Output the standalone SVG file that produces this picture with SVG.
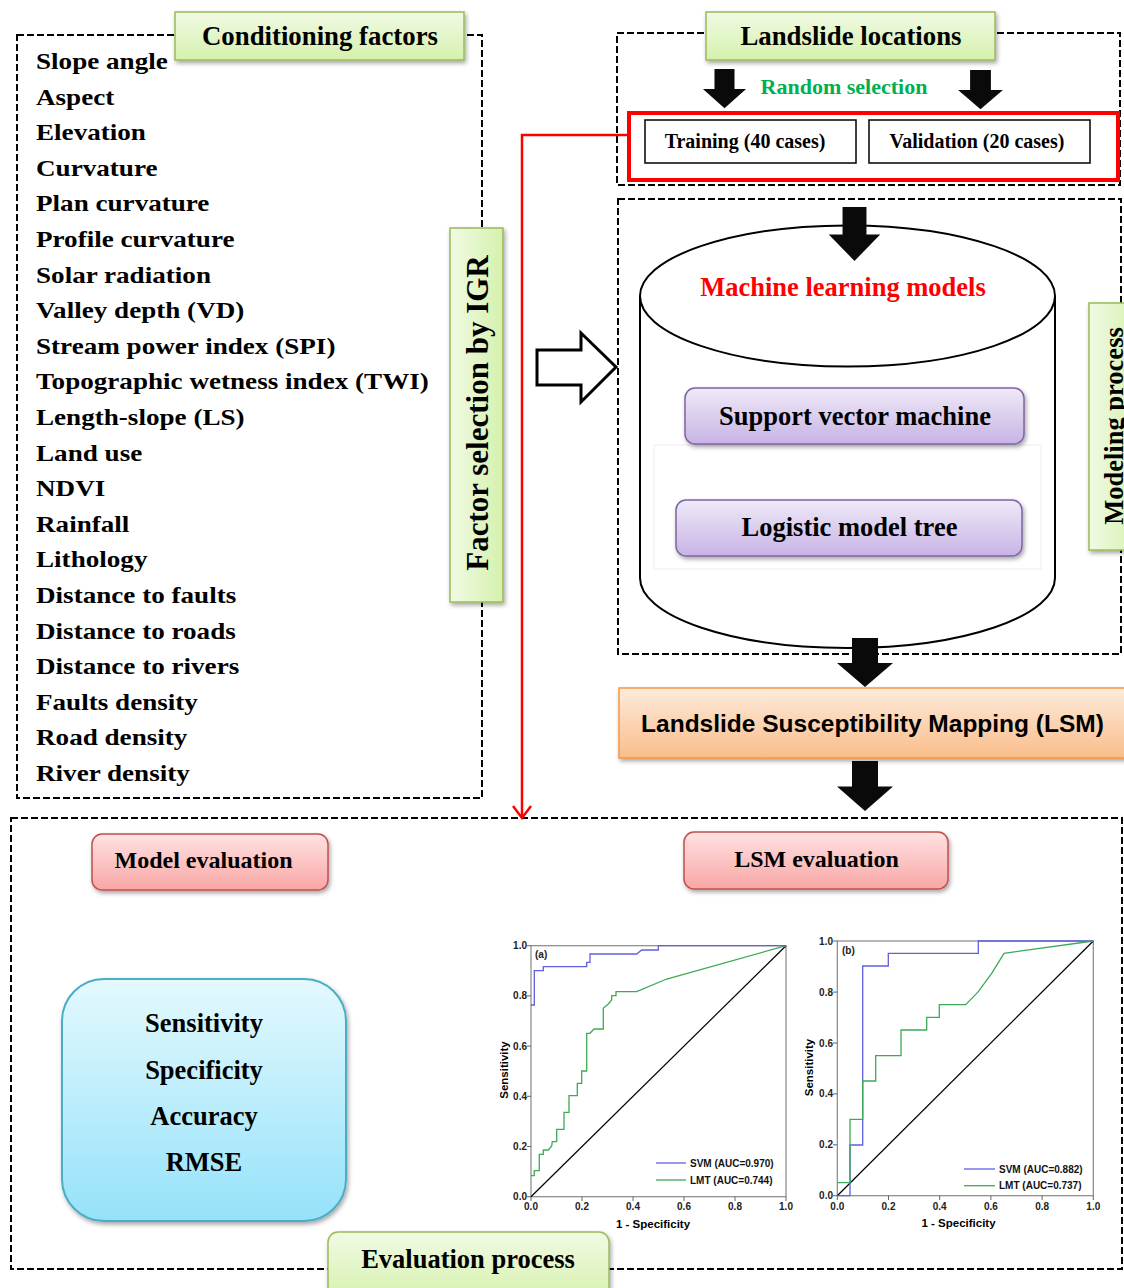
<svg xmlns="http://www.w3.org/2000/svg" width="1124" height="1288" viewBox="0 0 1124 1288">
<defs>
<style>
.t{font-family:"Liberation Serif","Times New Roman",serif;font-weight:bold;fill:#000}
.s{font-family:"Liberation Sans",Arial,sans-serif;font-weight:bold;fill:#000}
.ax{font-family:"Liberation Sans",Arial,sans-serif;font-weight:bold;font-size:10px;fill:#222}
.lg{font-family:"Liberation Sans",Arial,sans-serif;font-weight:bold;font-size:10px;fill:#111}
.dash{fill:none;stroke:#000;stroke-width:2;stroke-dasharray:7 3}
.green{fill:url(#gGreen);stroke:#9BBB59;stroke-width:1.5}
.greenv{fill:url(#gGreenV);stroke:#9BBB59;stroke-width:1.5}
.pink{fill:url(#gPink);stroke:#C0504D;stroke-width:1.5}
.purple{fill:url(#gPurple);stroke:#8064A2;stroke-width:1.5}
.frame{fill:none;stroke:#888;stroke-width:1.2}
.tick{stroke:#666;stroke-width:1}
.svm{fill:none;stroke:#5F5FE0;stroke-width:1.3}
.lmt{fill:none;stroke:#3DAA55;stroke-width:1.3}
.diag{stroke:#000;stroke-width:1.2}
.barrow{fill:#0a0a0a}
</style>
<linearGradient id="gGreen" x1="0" y1="0" x2="0" y2="1"><stop offset="0" stop-color="#F1FAE4"/><stop offset="1" stop-color="#D5F1AD"/></linearGradient>
<linearGradient id="gGreenV" x1="0" y1="0" x2="1" y2="0"><stop offset="0" stop-color="#F1FAE4"/><stop offset="1" stop-color="#D5F1AD"/></linearGradient>
<linearGradient id="gPink" x1="0" y1="0" x2="0" y2="1"><stop offset="0" stop-color="#FFE3E3"/><stop offset="1" stop-color="#F8A6A5"/></linearGradient>
<linearGradient id="gPurple" x1="0" y1="0" x2="0" y2="1"><stop offset="0" stop-color="#EFEAF8"/><stop offset="1" stop-color="#C7B3E5"/></linearGradient>
<linearGradient id="gBlue" x1="0" y1="0" x2="0" y2="1"><stop offset="0" stop-color="#E4F9FE"/><stop offset="1" stop-color="#95E2FA"/></linearGradient>
<linearGradient id="gOrange" x1="0" y1="0" x2="0" y2="1"><stop offset="0" stop-color="#FDEBDC"/><stop offset="1" stop-color="#FABD8A"/></linearGradient>
<filter id="sh" x="-10%" y="-20%" width="125%" height="150%"><feDropShadow dx="1.5" dy="2.5" stdDeviation="2" flood-color="#000" flood-opacity="0.35"/></filter>
<path id="darr" d="M-13,0 H13 V25 H28 L0,49 L-28,25 H-13 Z"/>
</defs>
<rect x="0" y="0" width="1124" height="1288" fill="#fff"/>

<!-- Conditioning factors list -->
<g id="conditioning-factors">
<rect class="dash" x="17" y="35" width="465" height="763"/>
<g class="t" font-size="24" transform="translate(36,0) scale(1.13,1)">
<text x="0" y="69">Slope angle</text>
<text x="0" y="104.6">Aspect</text>
<text x="0" y="140.2">Elevation</text>
<text x="0" y="175.8">Curvature</text>
<text x="0" y="211.4">Plan curvature</text>
<text x="0" y="247">Profile curvature</text>
<text x="0" y="282.6">Solar radiation</text>
<text x="0" y="318.2">Valley depth (VD)</text>
<text x="0" y="353.8">Stream power index (SPI)</text>
<text x="0" y="389.4">Topographic wetness index (TWI)</text>
<text x="0" y="425">Length-slope (LS)</text>
<text x="0" y="460.6">Land use</text>
<text x="0" y="496.2">NDVI</text>
<text x="0" y="531.8">Rainfall</text>
<text x="0" y="567.4">Lithology</text>
<text x="0" y="603">Distance to faults</text>
<text x="0" y="638.6">Distance to roads</text>
<text x="0" y="674.2">Distance to rivers</text>
<text x="0" y="709.8">Faults density</text>
<text x="0" y="745.4">Road density</text>
<text x="0" y="781">River density</text>
</g>
</g>
<g id="label-conditioning">
<rect class="green" x="175" y="12" width="289" height="48" filter="url(#sh)"/>
<text class="t" x="320" y="45" font-size="26.8" text-anchor="middle">Conditioning factors</text>
</g>
<g id="label-factor-selection">
<rect class="greenv" x="450" y="228" width="53" height="374" filter="url(#sh)"/>
<text class="t" font-size="31" text-anchor="middle" transform="translate(488,413) rotate(-90)">Factor selection by IGR</text>
</g>

<!-- Landslide locations -->
<g id="landslide-locations">
<rect class="dash" x="617" y="33" width="503" height="152"/>
<text x="844" y="94" font-size="22" text-anchor="middle" class="t" style="fill:#00B050">Random selection</text>
</g>
<g id="label-landslide">
<rect class="green" x="706" y="12" width="289" height="48" filter="url(#sh)"/>
<text class="t" x="851" y="45" font-size="26.8" text-anchor="middle">Landslide locations</text>
</g>
<g id="samples">
<rect x="629" y="113" width="489" height="67" fill="none" stroke="#FF0000" stroke-width="4"/>
</g>
<g id="training">
<rect x="645" y="120" width="211" height="43" fill="#fff" stroke="#000" stroke-width="1.5"/>
<text class="t" x="745" y="148" font-size="20" text-anchor="middle">Training (40 cases)</text>
</g>
<g id="validation">
<rect x="869" y="120" width="221" height="43" fill="#fff" stroke="#000" stroke-width="1.5"/>
<text class="t" x="977" y="148" font-size="20" text-anchor="middle">Validation (20 cases)</text>
</g>

<!-- Modeling process -->
<g id="modeling-process">
<rect class="dash" x="618" y="199" width="503" height="455"/>
<path d="M640,296 V578 A207.5,70 0 0 0 1055,578 V296" fill="#fff" stroke="#000" stroke-width="2"/>
<ellipse cx="847.5" cy="296" rx="207.5" ry="70.5" fill="#fff" stroke="#000" stroke-width="2"/>
<text class="t" x="843" y="296" font-size="26.5" text-anchor="middle" style="fill:#FF0000">Machine learning models</text>
<rect x="654" y="445" width="387" height="124" fill="none" stroke="#eeeeee" stroke-width="1"/>
</g>
<g id="svm">
<rect class="purple" x="685" y="388" width="339" height="56" rx="10" filter="url(#sh)"/>
<text class="t" x="855" y="425" font-size="26.5" text-anchor="middle">Support vector machine</text>
</g>
<g id="lmt">
<rect class="purple" x="676" y="500" width="346" height="56" rx="10" filter="url(#sh)"/>
<text class="t" x="849.5" y="536" font-size="26.5" text-anchor="middle">Logistic model tree</text>
</g>
<g id="label-modeling">
<rect class="greenv" x="1089" y="303" width="50" height="247" filter="url(#sh)"/>
<text class="t" font-size="26.5" text-anchor="middle" transform="translate(1123,426) rotate(-90)">Modeling process</text>
</g>

<!-- LSM -->
<g id="lsm">
<rect x="619" y="688" width="520" height="70" fill="url(#gOrange)" stroke="#F79646" stroke-width="1.5" filter="url(#sh)"/>
<text class="s" x="872.5" y="732" font-size="24.5" text-anchor="middle">Landslide Susceptibility Mapping (LSM)</text>
</g>

<!-- Evaluation process -->
<g id="evaluation-process">
<rect class="dash" x="11" y="818" width="1111" height="451"/>
</g>
<g id="model-evaluation">
<rect class="pink" x="92" y="834" width="236" height="56" rx="10" filter="url(#sh)"/>
<text class="t" x="203.5" y="868" font-size="24" text-anchor="middle">Model evaluation</text>
</g>
<g id="lsm-evaluation">
<rect class="pink" x="684" y="832" width="264" height="57" rx="10" filter="url(#sh)"/>
<text class="t" x="816.5" y="867" font-size="24" text-anchor="middle">LSM evaluation</text>
</g>
<g id="metrics">
<rect x="62" y="979" width="284" height="242" rx="42" fill="url(#gBlue)" stroke="#4BACC6" stroke-width="2" filter="url(#sh)"/>
<g class="t" font-size="26.5" text-anchor="middle">
<text x="204" y="1032">Sensitivity</text>
<text x="204" y="1079">Specificity</text>
<text x="204" y="1125">Accuracy</text>
<text x="204" y="1171">RMSE</text>
</g>
</g>
<g id="label-evaluation">
<rect class="green" x="328" y="1232" width="281" height="70" rx="10" filter="url(#sh)"/>
<text class="t" x="468" y="1268" font-size="26.5" text-anchor="middle">Evaluation process</text>
</g>

<!-- ROC chart (a) -->
<g id="roc-a">
<rect class="frame" x="531" y="945.7" width="255" height="251"/>
<g class="tick">
<line x1="527" y1="1196.7" x2="531" y2="1196.7"/><line x1="527" y1="1146.5" x2="531" y2="1146.5"/><line x1="527" y1="1096.3" x2="531" y2="1096.3"/><line x1="527" y1="1046.1" x2="531" y2="1046.1"/><line x1="527" y1="995.9" x2="531" y2="995.9"/><line x1="527" y1="945.7" x2="531" y2="945.7"/>
<line x1="531" y1="1196.7" x2="531" y2="1201"/><line x1="582" y1="1196.7" x2="582" y2="1201"/><line x1="633" y1="1196.7" x2="633" y2="1201"/><line x1="684" y1="1196.7" x2="684" y2="1201"/><line x1="735" y1="1196.7" x2="735" y2="1201"/><line x1="786" y1="1196.7" x2="786" y2="1201"/>
</g>
<g class="ax" text-anchor="end">
<text x="527" y="1200.2">0.0</text><text x="527" y="1150">0.2</text><text x="527" y="1099.8">0.4</text><text x="527" y="1049.6">0.6</text><text x="527" y="999.4">0.8</text><text x="527" y="949.2">1.0</text>
</g>
<g class="ax" text-anchor="middle">
<text x="531" y="1210">0.0</text><text x="582" y="1210">0.2</text><text x="633" y="1210">0.4</text><text x="684" y="1210">0.6</text><text x="735" y="1210">0.8</text><text x="786" y="1210">1.0</text>
</g>
<text class="ax" x="535" y="958">(a)</text>
<text class="s" x="653" y="1228" font-size="11.5" text-anchor="middle">1 - Specificity</text>
<text class="s" font-size="11.5" text-anchor="middle" transform="translate(508,1070) rotate(-90)">Sensitivity</text>
<line class="diag" x1="531" y1="1196.7" x2="786" y2="945.7"/>
<polyline class="lmt" points="531,1175.7 534.3,1175.7 534.3,1170.7 539.3,1170.7 539.3,1154.3 543.3,1154.3 543.3,1150 548.3,1150 551.7,1146 552.3,1141.7 556.7,1141.7 556.7,1129.3 564,1129.3 564,1112.3 569,1112.3 569,1095.7 577.3,1095.7 577.3,1083.3 581.7,1083.3 581.7,1071 586.7,1071 586.7,1033.3 590,1033.3 594,1029 603.3,1029 603.3,1008.3 608.3,1004 611.7,1000 611.7,995.7 616,995.7 616,991.7 636.7,991.7 666.7,979 786,945.7"/>
<polyline class="svm" points="531,1005 534.3,1005 534.3,970.7 543.3,970.7 543.3,966.7 586.7,966.7 586.7,962.3 590,962.3 590,954 636.7,954 641.7,950 658.3,950 658.3,945.7 786,945.7"/>
<line class="svm" x1="656" y1="1163" x2="686" y2="1163"/>
<line class="lmt" x1="656" y1="1180" x2="686" y2="1180"/>
<text class="lg" x="690" y="1166.5">SVM (AUC=0.970)</text>
<text class="lg" x="690" y="1183.5">LMT (AUC=0.744)</text>
</g>

<!-- ROC chart (b) -->
<g id="roc-b">
<rect class="frame" x="837.3" y="941" width="256" height="254.7"/>
<g class="tick">
<line x1="833" y1="1195.7" x2="837.3" y2="1195.7"/><line x1="833" y1="1144.8" x2="837.3" y2="1144.8"/><line x1="833" y1="1093.9" x2="837.3" y2="1093.9"/><line x1="833" y1="1043" x2="837.3" y2="1043"/><line x1="833" y1="992.1" x2="837.3" y2="992.1"/><line x1="833" y1="941" x2="837.3" y2="941"/>
<line x1="837.3" y1="1195.7" x2="837.3" y2="1200"/><line x1="888.5" y1="1195.7" x2="888.5" y2="1200"/><line x1="939.7" y1="1195.7" x2="939.7" y2="1200"/><line x1="990.9" y1="1195.7" x2="990.9" y2="1200"/><line x1="1042.1" y1="1195.7" x2="1042.1" y2="1200"/><line x1="1093.3" y1="1195.7" x2="1093.3" y2="1200"/>
</g>
<g class="ax" text-anchor="end">
<text x="833" y="1199.2">0.0</text><text x="833" y="1148.3">0.2</text><text x="833" y="1097.4">0.4</text><text x="833" y="1046.5">0.6</text><text x="833" y="995.6">0.8</text><text x="833" y="944.5">1.0</text>
</g>
<g class="ax" text-anchor="middle">
<text x="837.3" y="1210">0.0</text><text x="888.5" y="1210">0.2</text><text x="939.7" y="1210">0.4</text><text x="990.9" y="1210">0.6</text><text x="1042.1" y="1210">0.8</text><text x="1093.3" y="1210">1.0</text>
</g>
<text class="ax" x="842" y="954">(b)</text>
<text class="s" x="958.5" y="1227" font-size="11.5" text-anchor="middle">1 - Specificity</text>
<text class="s" font-size="11.5" text-anchor="middle" transform="translate(813,1067.5) rotate(-90)">Sensitivity</text>
<line class="diag" x1="837.3" y1="1195.7" x2="1093.3" y2="941"/>
<polyline class="svm" points="837.3,1195.7 850,1195.7 850,1145 862.7,1145 862.7,966 888.3,966 888.3,953.3 978.3,953.3 978.3,941 1093.3,941"/>
<polyline class="lmt" points="837.3,1182.7 850,1182.7 850,1119.3 862.7,1119.3 862.7,1081 875.7,1081 875.7,1055.7 901,1055.7 901,1030 926.7,1030 926.7,1017.3 939.3,1017.3 939.3,1004.7 965.7,1004.7 978.3,991.7 991.7,973.3 1004,953.3 1093.3,941"/>
<line class="svm" x1="964" y1="1169" x2="995" y2="1169"/>
<line class="lmt" x1="964" y1="1185.7" x2="995" y2="1185.7"/>
<text class="lg" x="999" y="1172.5">SVM (AUC=0.882)</text>
<text class="lg" x="999" y="1189">LMT (AUC=0.737)</text>
</g>

<!-- Connectors -->
<g id="connectors">
<polyline points="629,135 522,135 522,818" fill="none" stroke="#FF0000" stroke-width="2.5"/>
<polyline points="513,806 522,818 531,806" fill="none" stroke="#FF0000" stroke-width="2.5"/>
<polygon points="537,350 581,350 581,333 616,367 581,402 581,385 537,385" fill="#fff" stroke="#000" stroke-width="3" stroke-linejoin="miter"/>
<use href="#darr" class="barrow" transform="translate(724.5,69) scale(0.77,0.8)"/>
<use href="#darr" class="barrow" transform="translate(980.5,70) scale(0.8,0.8)"/>
<use href="#darr" class="barrow" transform="translate(854.5,207) scale(0.92,1.1)"/>
<use href="#darr" class="barrow" transform="translate(865,638)"/>
<use href="#darr" class="barrow" transform="translate(865,761) scale(1,1.02)"/>
</g>
</svg>
